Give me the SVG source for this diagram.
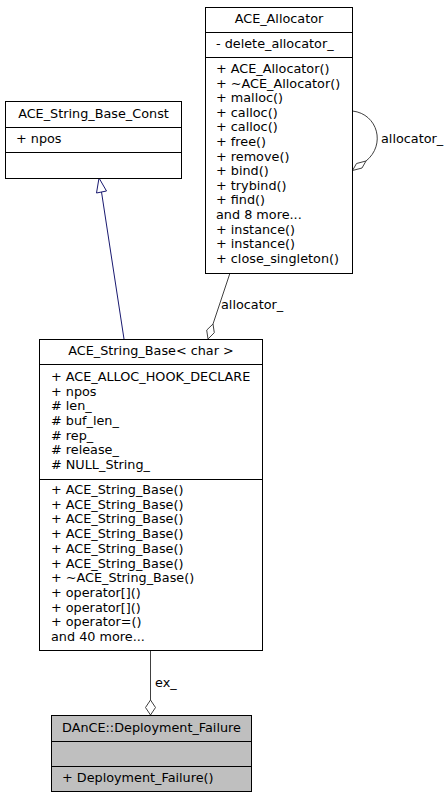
<svg xmlns="http://www.w3.org/2000/svg" width="448" height="797" viewBox="0 0 448 797">
<style>
text{font-family:"DejaVu Sans","Liberation Sans",sans-serif;font-size:12.8px;fill:#000}
.t{text-anchor:middle}
.box{fill:#fff;stroke:#000;stroke-width:1}
.gray{fill:#bfbfbf;stroke:#000;stroke-width:1}
.ln{stroke:#000;stroke-width:1}
.e{fill:none;stroke:#404040;stroke-width:1}
.d{fill:#fff;stroke:#404040;stroke-width:1}
.inh{fill:none;stroke:#191970;stroke-width:1}
.tri{fill:#fff;stroke:#191970;stroke-width:1}
</style>
<rect width="448" height="797" fill="#fff"/>
<g id="connectors">
  <path class="inh" d="M124,339 L101.5,192"/>
  <polygon class="tri" points="99,178 96.5,193 106.5,191"/>
  <path class="e" d="M230,273 L213,324"/>
  <polygon class="d" points="208,339 206.7,330.1 213,324 214.3,332.7"/>
  <text x="221" y="309">allocator_</text>
  <path class="e" d="M352.5,111 C378,114 386,145 366,161"/>
  <polygon class="d" points="352.5,170.5 356.5,163.5 366,161 362,168"/>
  <text x="381" y="143">allocator_</text>
  <path class="e" d="M150.5,650 L150.5,700"/>
  <polygon class="d" points="150.5,715 145.5,707.5 150.5,700 155.5,707.5"/>
  <text x="155" y="687">ex_</text>
</g>
<g id="ACE_String_Base_Const">
  <rect class="box" x="5.5" y="101.5" width="176" height="77"/>
  <line class="ln" x1="5.5" y1="127.5" x2="181.5" y2="127.5"/>
  <line class="ln" x1="5.5" y1="152.5" x2="181.5" y2="152.5"/>
  <text class="t" x="93.5" y="118">ACE_String_Base_Const</text>
  <text x="16" y="143">+ npos</text>
</g>
<g id="ACE_Allocator">
  <rect class="box" x="205.5" y="7.5" width="147" height="266"/>
  <line class="ln" x1="205.5" y1="32.5" x2="352.5" y2="32.5"/>
  <line class="ln" x1="205.5" y1="57.5" x2="352.5" y2="57.5"/>
  <text class="t" x="279" y="23">ACE_Allocator</text>
  <text x="216" y="48">- delete_allocator_</text>
  <text x="216" y="73">+ ACE_Allocator()</text>
  <text x="216" y="87.6">+ ~ACE_Allocator()</text>
  <text x="216" y="102.2">+ malloc()</text>
  <text x="216" y="116.8">+ calloc()</text>
  <text x="216" y="131.4">+ calloc()</text>
  <text x="216" y="146">+ free()</text>
  <text x="216" y="160.6">+ remove()</text>
  <text x="216" y="175.2">+ bind()</text>
  <text x="216" y="189.8">+ trybind()</text>
  <text x="216" y="204.4">+ find()</text>
  <text x="216" y="219">and 8 more...</text>
  <text x="216" y="233.6">+ instance()</text>
  <text x="216" y="248.2">+ instance()</text>
  <text x="216" y="262.8">+ close_singleton()</text>
</g>
<g id="ACE_String_Base_char">
  <rect class="box" x="39.5" y="339.5" width="223" height="311"/>
  <line class="ln" x1="39.5" y1="364.5" x2="262.5" y2="364.5"/>
  <line class="ln" x1="39.5" y1="479.5" x2="262.5" y2="479.5"/>
  <text class="t" x="151" y="355">ACE_String_Base&lt; char &gt;</text>
  <text x="51" y="381">+ ACE_ALLOC_HOOK_DECLARE</text>
  <text x="51" y="395.7">+ npos</text>
  <text x="51" y="410.3">#  len_</text>
  <text x="51" y="425">#  buf_len_</text>
  <text x="51" y="439.7">#  rep_</text>
  <text x="51" y="454.3">#  release_</text>
  <text x="51" y="469">#  NULL_String_</text>
  <text x="51" y="494">+ ACE_String_Base()</text>
  <text x="51" y="508.7">+ ACE_String_Base()</text>
  <text x="51" y="523.4">+ ACE_String_Base()</text>
  <text x="51" y="538.1">+ ACE_String_Base()</text>
  <text x="51" y="552.8">+ ACE_String_Base()</text>
  <text x="51" y="567.5">+ ACE_String_Base()</text>
  <text x="51" y="582.2">+ ~ACE_String_Base()</text>
  <text x="51" y="596.9">+ operator[]()</text>
  <text x="51" y="611.6">+ operator[]()</text>
  <text x="51" y="626.3">+ operator=()</text>
  <text x="51" y="641">and 40 more...</text>
</g>
<g id="DAnCE_Deployment_Failure">
  <rect class="gray" x="51.5" y="715.5" width="200" height="76"/>
  <line class="ln" x1="51.5" y1="741.5" x2="251.5" y2="741.5"/>
  <line class="ln" x1="51.5" y1="766.5" x2="251.5" y2="766.5"/>
  <text class="t" x="151.5" y="732">DAnCE::Deployment_Failure</text>
  <text x="62" y="782">+ Deployment_Failure()</text>
</g>
</svg>
